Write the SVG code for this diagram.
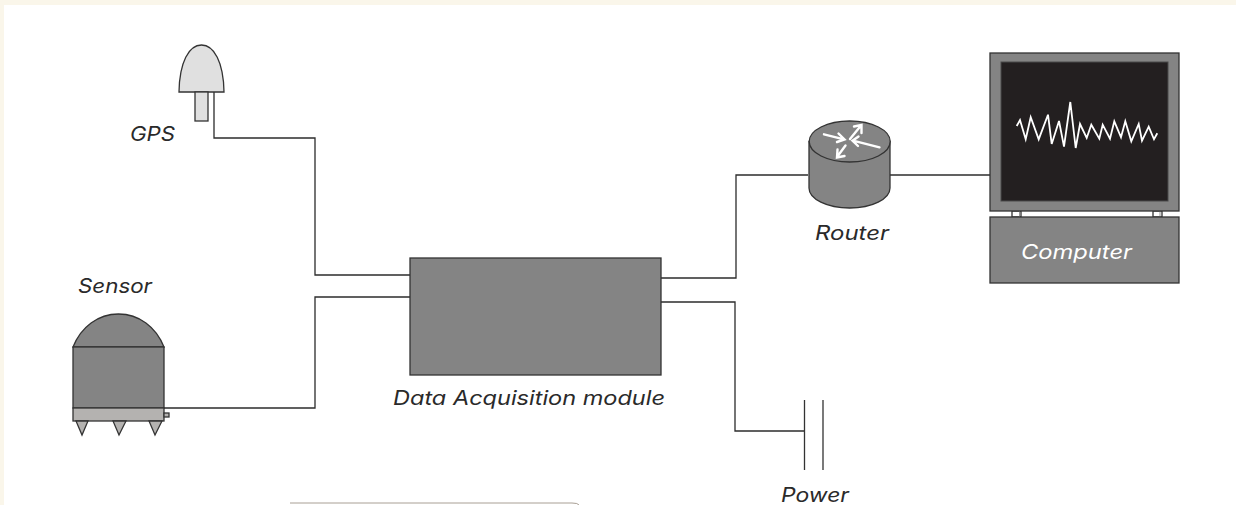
<svg xmlns="http://www.w3.org/2000/svg" width="1236" height="505" viewBox="0 0 1236 505">
<style>
.e{stroke:#333;stroke-width:1.3}
.w{fill:none;stroke:#2c2c2c;stroke-width:1.3}
.d{fill:#848484}
.l{fill:#e0e0e0}
.m{fill:#b4b2b0}
.a{fill:none;stroke:#fff;stroke-width:2.4;stroke-linecap:round;stroke-linejoin:miter}
text{font-family:"Inter","Open Sans","Liberation Sans",sans-serif;font-style:italic;font-size:20px;fill:#2a2a2a}
</style>
<rect width="1236" height="505" fill="#fff"/>
<path d="M0 0H1236V5H4V505H0Z" fill="#faf6ea"/>
<path d="M290 503H572Q578 503 579 505" fill="none" stroke="#a89f94" stroke-width="1"/>
<g id="connectors">
<path class="w" d="M214 92V138H315V275H410"/>
<path class="w" d="M164 408H315V297H410"/>
<path class="w" d="M661 278H736V175H808"/>
<path class="w" d="M661 302H735V431H805"/>
<path class="w" d="M890 175H990"/>
</g>
<g id="gps">
<path class="e l" d="M179 92C179.500 62 189 45 201.500 45C214 45 223.500 62 224 92Z"/>
<rect class="e l" x="195" y="92" width="13" height="29"/>
<text x="130" y="141" textLength="45" lengthAdjust="spacingAndGlyphs">GPS</text>
</g>
<g id="sensor">
<text x="78" y="293" textLength="74" lengthAdjust="spacingAndGlyphs">Sensor</text>
<path class="e d" d="M73 347C81 327 98 314 118.500 314C139 314 156 327 164 347Z"/>
<rect class="e d" x="73" y="347" width="91" height="61"/>
<rect class="e m" x="73" y="408" width="91" height="13"/>
<rect class="e m" x="164" y="413" width="5" height="4"/>
<path class="e m" d="M76 421H88L82 435Z"/>
<path class="e m" d="M113 421H126L119 435Z"/>
<path class="e m" d="M149 421H162L155 435Z"/>
</g>
<g id="module">
<rect class="e d" x="410" y="258" width="251" height="117"/>
<text x="393" y="405" textLength="272" lengthAdjust="spacingAndGlyphs">Data Acquisition module</text>
</g>
<g id="router">
<path class="e d" d="M809 141.500V188C809 199 827 208 849.700 208C872 208 890 199 890 188V141.500Z"/>
<ellipse class="e d" cx="849.700" cy="141.500" rx="40.500" ry="20.500"/>
<path class="a" d="M824 134.300L844 139.300M838.500 133.500L844.500 139.500L837 142"/>
<path class="a" d="M850 139L861 125.500M854 126.500L861.500 125L861.500 133"/>
<path class="a" d="M879.500 147.300L853 140.700M858.500 136.500L852.500 140.700L858 146"/>
<path class="a" d="M845.500 145.500L837 157M837.500 149.500L837 157.500L844.500 156"/>
<text x="815" y="240" textLength="74" lengthAdjust="spacingAndGlyphs">Router</text>
</g>
<g id="computer">
<rect class="e" x="1012" y="211" width="9" height="6" fill="#fff"/>
<rect class="e" x="1153" y="211" width="9" height="6" fill="#fff"/>
<path d="M1019.500 211V217M1160 211V217" fill="none" stroke="#999" stroke-width="1"/>
<rect class="e d" x="990" y="53" width="189" height="158"/>
<rect x="1001" y="62" width="167" height="139" fill="#231f20" stroke="#4a4a4a" stroke-width="1"/>
<polyline fill="none" stroke="#fff" stroke-width="1.800" points="1016.700,126 1020,120 1025.700,139.300 1030.700,117.300 1038.700,139.300 1048,114.700 1051.700,144 1059,121 1064,146.700 1070.300,102 1075.700,148 1080,124 1086.700,138 1091.300,124.700 1099.300,138.700 1102.700,124.700 1110,138.700 1114.300,121.300 1121,137.300 1125.300,121.300 1131.300,141.300 1138.700,124 1142,140.700 1148.700,126.700 1154,139.300 1157.300,133.300"/>
<rect class="e d" x="990" y="217" width="189" height="66"/>
<text x="1021" y="259" textLength="111" lengthAdjust="spacingAndGlyphs" style="fill:#fff">Computer</text>
</g>
<g id="power">
<path class="e" d="M804.500 400V470M823 400V470" fill="none"/>
<text x="781" y="502" textLength="68" lengthAdjust="spacingAndGlyphs">Power</text>
</g>
</svg>
